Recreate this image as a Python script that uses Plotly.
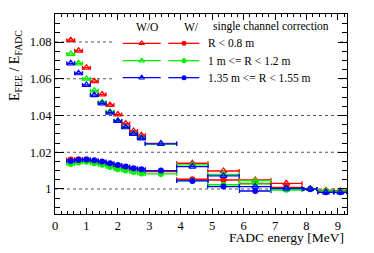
import plotly.graph_objects as go

# ---------------- data ----------------
energy = [0.5, 0.75, 1.0, 1.25, 1.5, 1.75, 2.0, 2.25, 2.5, 2.75,
          3.37, 4.37, 5.36, 6.37, 7.36, 8.12, 8.62, 9.08]
energy_err = [0.125] * 10 + [0.5, 0.5, 0.5, 0.5, 0.5, 0.21, 0.26, 0.21]

wo_red = [1.0810, 1.0753, 1.0660, 1.0587, 1.0515, 1.0457, 1.0406, 1.0357, 1.0316, 1.0293,
          1.0248, 1.0140, 1.0098, 1.0049, 1.0031, 1.0000, 0.9992, 0.9990]
wo_green = [1.0735, 1.0684, 1.0600, 1.0535, 1.0472, 1.0420, 1.0372, 1.0338, 1.0302, 1.0278,
            1.0245, 1.0131, 1.0080, 1.0045, 0.9996, 1.0000, 0.9990, 0.9988]
wo_blue = [1.0684, 1.0630, 1.0566, 1.0511, 1.0466, 1.0415, 1.0370, 1.0336, 1.0300, 1.0276,
           1.0246, 1.0122, 1.0071, 1.0013, 1.0003, 1.0000, 0.9982, 0.9982]

w_red = [1.0160, 1.0162, 1.0160, 1.0152, 1.0145, 1.0135, 1.0125, 1.0114, 1.0108, 1.0104,
         1.0095, 1.0053, 1.0049, 1.0030, 1.0009, 0.9998, 0.9990, 0.9990]
w_green = [1.0136, 1.0144, 1.0148, 1.0140, 1.0132, 1.0120, 1.0108, 1.0100, 1.0092, 1.0085,
           1.0082, 1.0045, 1.0023, 1.0028, 0.9996, 1.0000, 0.9988, 0.9986]
w_blue = [1.0152, 1.0158, 1.0160, 1.0156, 1.0150, 1.0140, 1.0131, 1.0122, 1.0113, 1.0107,
          1.0100, 1.0044, 1.0013, 0.9989, 1.0002, 1.0000, 0.9982, 0.9982]

series_labels = ["R < 0.8 m", "1 m <= R < 1.2 m", "1.35 m <= R < 1.55 m"]
colors = ["#ff0000", "#00ee00", "#0000ff"]

x_ticks = list(range(0, 10))
y_ticks = [1.0, 1.02, 1.04, 1.06, 1.08]
y_tick_text = ["1", "1.02", "1.04", "1.06", "1.08"]

Y_MIN, Y_MAX = 0.98639, 1.09524

# ---------------- geometry (page pixels; page body has an 8px margin) ----------------
OFF = 8
PAGE_W, PAGE_H = 374, 253
PL, PR, PT, PB = 55, 347, 14, 214          # plot area in page pixels
W, H = PAGE_W - 2 * OFF, PAGE_H - 2 * OFF
L, T = PL - OFF, PT - OFF
R, B = W - (PR - OFF), H - (PB - OFF)
PW, PH = PR - PL, PB - PT
FONT = "Times New Roman, Liberation Serif, DejaVu Serif, serif"

fig = go.Figure()

wo_sets = [wo_red, wo_green, wo_blue]
w_sets = [w_red, w_green, w_blue]

# W/ series (filled circles)
for vals, col in zip(w_sets, colors):
    fig.add_trace(go.Scatter(
        x=energy, y=vals, mode="markers",
        marker=dict(symbol="circle", size=6, color=col),
        error_x=dict(type="data", array=energy_err, color=col, thickness=1.3, width=2),
        showlegend=False))
# W/O series (open triangles)
for vals, col in zip(wo_sets, colors):
    fig.add_trace(go.Scatter(
        x=energy, y=vals, mode="markers",
        marker=dict(symbol="triangle-up-open", size=6, color=col, line=dict(width=1.2)),
        error_x=dict(type="data", array=energy_err, color=col, thickness=1.3, width=2),
        showlegend=False))


# ---------------- legend drawn on a hidden overlay axis ----------------
def fx(px):
    return (px - PL) / PW


def fy(py):
    return (PB - py) / PH


row_y = [43.3, 60.7, 77.7]
for ry, col, lab in zip(row_y, colors, series_labels):
    fig.add_trace(go.Scatter(
        x=[fx(122.7), fx(160.7)], y=[fy(ry), fy(ry)], xaxis="x2", yaxis="y2",
        mode="lines", line=dict(color=col, width=1.3), showlegend=False, hoverinfo="skip"))
    fig.add_trace(go.Scatter(
        x=[fx(141.7)], y=[fy(ry)], xaxis="x2", yaxis="y2", mode="markers",
        marker=dict(symbol="triangle-up-open", size=5, color=col, line=dict(width=1.1)),
        showlegend=False, hoverinfo="skip"))
    fig.add_trace(go.Scatter(
        x=[fx(168.3), fx(199.3)], y=[fy(ry), fy(ry)], xaxis="x2", yaxis="y2",
        mode="lines", line=dict(color=col, width=1.3), showlegend=False, hoverinfo="skip"))
    fig.add_trace(go.Scatter(
        x=[fx(184)], y=[fy(ry)], xaxis="x2", yaxis="y2", mode="markers",
        marker=dict(symbol="circle", size=5, color=col),
        showlegend=False, hoverinfo="skip"))
    fig.add_annotation(x=fx(206), y=fy(ry), xref="x2", yref="y2", text=lab,
                       showarrow=False, xanchor="left", yanchor="middle",
                       font=dict(family=FONT, size=11.5, color="black"))

for txt, px, anchor in [("W/O", 147.3, "center"), ("W/", 191.7, "center"),
                        ("single channel correction", 211.0, "left")]:
    fig.add_annotation(x=fx(px), y=fy(26.7), xref="x2", yref="y2", text=txt,
                       showarrow=False, xanchor=anchor, yanchor="middle",
                       font=dict(family=FONT, size=11.5, color="black"))

# dotted grid lines (split around the legend)
for yv in y_ticks:
    py = PB - (yv - Y_MIN) / (Y_MAX - Y_MIN) * PH
    if py < 90:
        segs = [(0, fx(114)), (fx(340), 1)]
    else:
        segs = [(0, 1)]
    for a, b in segs:
        fig.add_shape(type="line", xref="paper", yref="y", x0=a, x1=b, y0=yv, y1=yv,
                      line=dict(color="#555555", width=1, dash="dot"), layer="below")

# axis titles
fig.add_annotation(xref="paper", yref="paper", x=fx(346), y=fy(237.8), text="FADC energy [MeV]",
                   showarrow=False, xanchor="right", yanchor="middle",
                   font=dict(family=FONT, size=13.5, color="black"))
fig.add_annotation(xref="paper", yref="paper", x=fx(15), y=fy(66),
                   text="E<sub>FEE</sub> / E<sub>FADC</sub>", textangle=-90,
                   showarrow=False, xanchor="center", yanchor="middle",
                   font=dict(family=FONT, size=14, color="black"))

axis_common = dict(showline=True, linecolor="black", linewidth=1, mirror="allticks",
                   ticks="inside", tickcolor="black", showgrid=False, zeroline=False,
                   tickfont=dict(family=FONT, size=12.5, color="black"))

fig.update_layout(
    width=W, height=H,
    margin=dict(l=L, r=R, t=T, b=B, pad=0),
    paper_bgcolor="white", plot_bgcolor="white",
    showlegend=False,
    font=dict(family=FONT),
    xaxis=dict(range=[0, 9.29], tickvals=x_ticks, ticklen=6,
               minor=dict(ticks="inside", ticklen=3, dtick=0.2, tick0=0, tickcolor="black"),
               **axis_common),
    yaxis=dict(range=[Y_MIN, Y_MAX], tickvals=y_ticks, ticktext=y_tick_text, ticklen=9,
               minor=dict(ticks="inside", ticklen=5, dtick=0.005, tick0=1.0, tickcolor="black"),
               **axis_common),
    xaxis2=dict(range=[0, 1], overlaying="x", visible=False, fixedrange=True),
    yaxis2=dict(range=[0, 1], overlaying="y", visible=False, fixedrange=True),
)

fig.write_html("out.html")
